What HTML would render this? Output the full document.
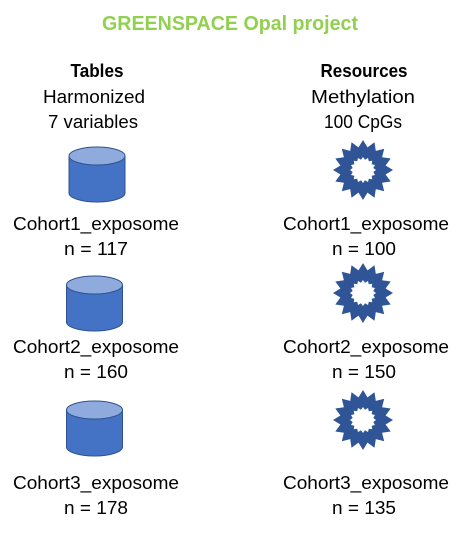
<!DOCTYPE html>
<html><head><meta charset="utf-8"><style>
html,body{margin:0;padding:0;background:#fff;}
text{font-family:"Liberation Sans",sans-serif;fill:#000;font-size:18px;}
</style></head><body>
<svg width="462" height="533" viewBox="0 0 462 533">
<defs>
<g id="cyl">
<path d="M-28,9 L-28,46 A28,9 0 0 0 28,46 L28,9 Z" fill="#4472C4" stroke="#2F528F" stroke-width="1"/>
<ellipse cx="0" cy="9" rx="28" ry="9" fill="#8FAADC" stroke="#2F528F" stroke-width="1"/>
</g>
</defs>
<text x="230" y="30" text-anchor="middle" textLength="256" lengthAdjust="spacingAndGlyphs" style="fill:#92D050;font-weight:bold;font-size:20px">GREENSPACE Opal project</text>
<text x="97" y="77" text-anchor="middle" textLength="53" lengthAdjust="spacingAndGlyphs" style="font-weight:bold">Tables</text>
<text x="94" y="103" text-anchor="middle" textLength="102" lengthAdjust="spacingAndGlyphs">Harmonized</text>
<text x="93" y="128" text-anchor="middle" textLength="90" lengthAdjust="spacingAndGlyphs">7 variables</text>
<text x="364" y="77" text-anchor="middle" textLength="87" lengthAdjust="spacingAndGlyphs" style="font-weight:bold">Resources</text>
<text x="363" y="103" text-anchor="middle" textLength="104" lengthAdjust="spacingAndGlyphs">Methylation</text>
<text x="363" y="128" text-anchor="middle" textLength="78" lengthAdjust="spacingAndGlyphs">100 CpGs</text>
<g id="items"></g>
</svg>
<script>
const labels=["Cohort1_exposome","Cohort2_exposome","Cohort3_exposome"];
const tableN=[117,160,178];
const resourceN=[100,150,135];
const NS="http://www.w3.org/2000/svg";
const g=document.getElementById('items');
const cylTop=[147,276,401], cylX=[97,94.5,94.5], starY=[170,293,420], labY=[230,353,489];
function star(cx,cy){
  let p=[],q=[];
  const n=16;
  for(let i=0;i<2*n;i++){const a=Math.PI*i/n-Math.PI/2;const r=i%2?23:30;p.push((cx+r*Math.cos(a)).toFixed(1)+','+(cy+r*Math.sin(a)).toFixed(1));}
  for(let i=0;i<2*n;i++){const a=Math.PI*i/n-Math.PI/2;const r=i%2?10.5:13;q.push((cx+r*Math.cos(a)).toFixed(1)+','+(cy+r*Math.sin(a)).toFixed(1));}
  const path=document.createElementNS(NS,'path');
  path.setAttribute('d','M'+p.join('L')+'Z M'+q.reverse().join('L')+'Z');
  path.setAttribute('fill','#2F5597');
  path.setAttribute('fill-rule','evenodd');
  return path;
}
function txt(x,y,s,w){const t=document.createElementNS(NS,'text');t.setAttribute('x',x);t.setAttribute('y',y);t.setAttribute('text-anchor','middle');if(w){t.setAttribute('textLength',w);t.setAttribute('lengthAdjust','spacingAndGlyphs');}t.textContent=s;g.appendChild(t);return t;}
labels.forEach((lab,i)=>{
  const c=document.createElementNS(NS,'use');
  c.setAttribute('href','#cyl');
  c.setAttribute('transform','translate('+cylX[i]+','+cylTop[i]+')');
  
  
  g.appendChild(c);
  const s=star(363,starY[i]);
  
  
  g.appendChild(s);
  const y=labY[i];
  let t=txt(96,y,lab,166);
  
  
  t=txt(96,y+25,'n = '+tableN[i],64);
  
  
  t=txt(366,y,lab,166);
  
  
  t=txt(364,y+25,'n = '+resourceN[i],64);
  
  
});
</script>
</body></html>
